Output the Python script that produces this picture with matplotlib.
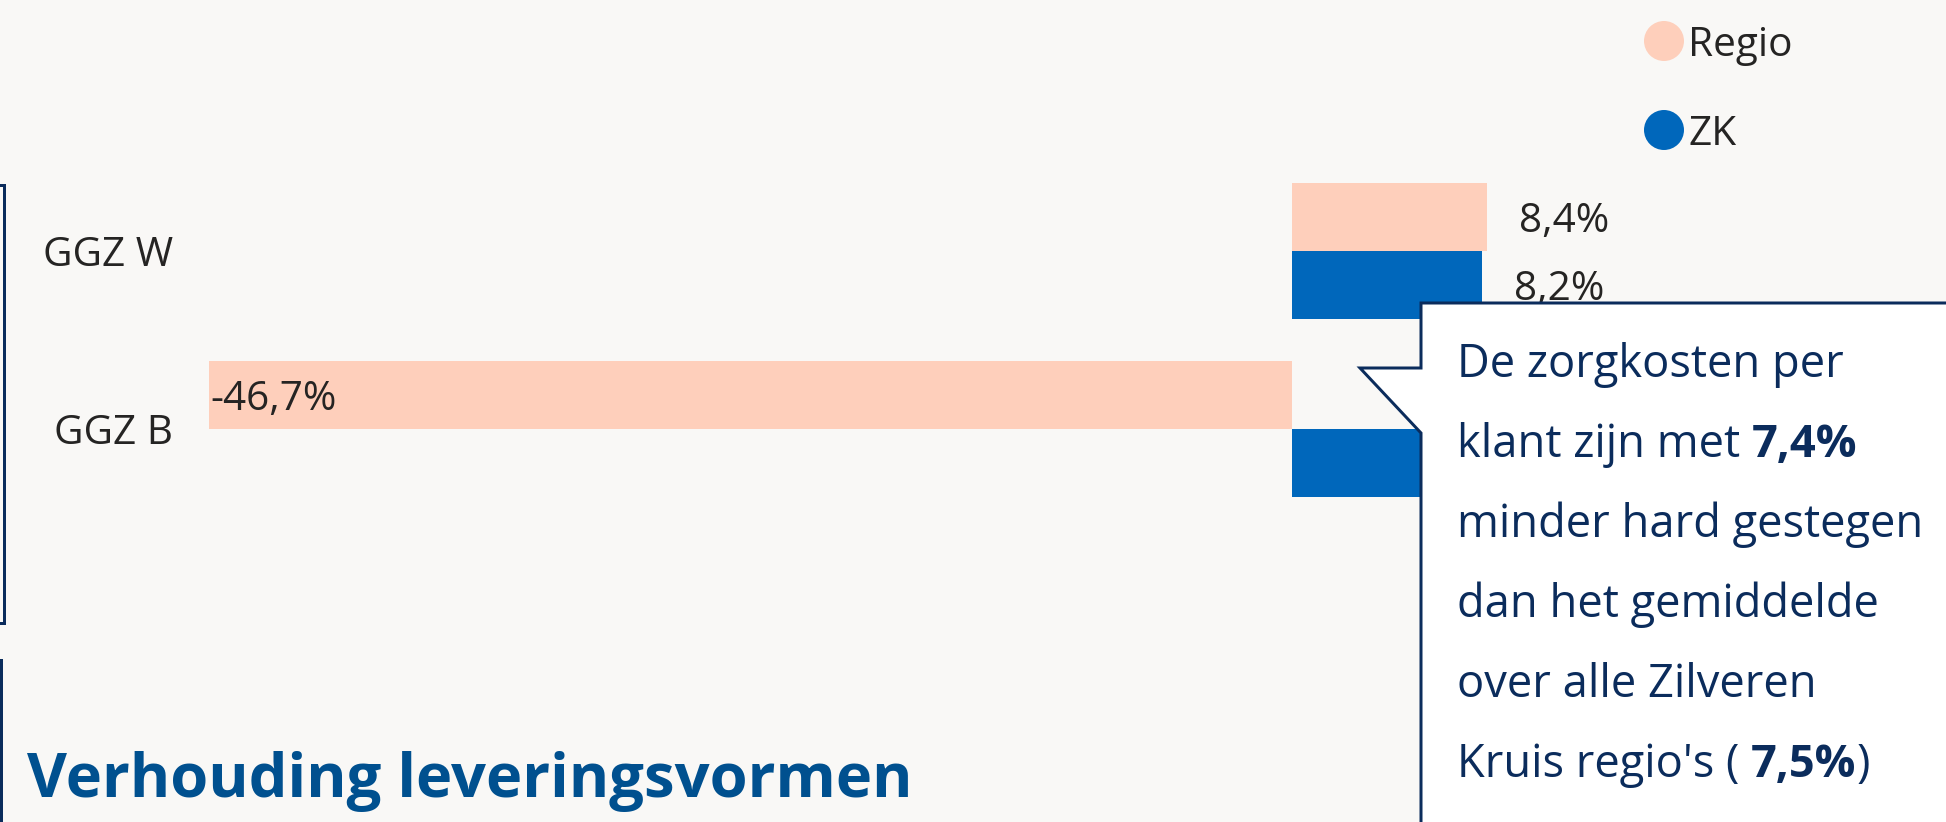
import matplotlib
matplotlib.use("Agg")
import matplotlib.pyplot as plt
from matplotlib.patches import Polygon, Ellipse
from matplotlib.lines import Line2D

# ---------------- data ----------------
categories = ["GGZ W", "GGZ B"]
series_names = ["Regio", "ZK"]
regio_values = [8.4, -46.7]
zk_values = [8.2, 8.0]          # GGZ B / ZK value is hidden behind the callout (estimated)
zk_label_visible = [True, False]  # the GGZ B / ZK label is covered by the callout in the reference

title_text = "Verhouding leveringsvormen"
callout_lines = [
    [("De zorgkosten per", "normal")],
    [("klant zijn met ", "normal"), ("7,4%", "bold")],
    [("minder hard gestegen", "normal")],
    [("dan het gemiddelde", "normal")],
    [("over alle Zilveren", "normal")],
    [("Kruis regio's ( ", "normal"), ("7,5%", "bold"), (")", "normal")],
]

# ---------------- style ----------------
W, H, DPI = 1946, 822, 100
BG = "#F9F8F6"
REGIO_C = "#FECFBB"
ZK_C = "#0067BB"
NAVY = "#0B2C5C"
TEXT_C = "#252423"
TITLE_C = "#00508F"
FONT = "Open Sans"

fig = plt.figure(figsize=(W / DPI, H / DPI), dpi=DPI, facecolor=BG)
renderer = fig.canvas.get_renderer()


def fx(x):
    return x / W


def fy(y):
    return 1 - y / H


def text_w(s, size, weight="normal"):
    t = fig.text(0, 0, s, fontsize=size, family=FONT, weight=weight)
    w = t.get_window_extent(renderer).width
    t.remove()
    return w


def adv(s, size, weight="normal"):
    return text_w("|" + s + "|", size, weight) - text_w("||", size, weight)


def fit(s, target, weight="normal"):
    return 30 * target / text_w(s, 30, weight)


small_size = (fit("-46,7%", 127) + fit("GGZ W", 133) + fit("8,4%", 88)) / 3

# ---------------- axes ----------------
ax_left_px = 200
scale = 23.19            # pixels per percent
zero_px = 1292
ax = fig.add_axes([fx(ax_left_px), 0, 1 - fx(ax_left_px), 1])
ax.set_facecolor("none")
ax.set_xlim((ax_left_px - zero_px) / scale, (W - zero_px) / scale)
cat_gap = 178
first_center = 251
ax.set_ylim((H - first_center) / cat_gap, -first_center / cat_gap)
for s in ax.spines.values():
    s.set_visible(False)
ax.xaxis.set_visible(False)

ypos = list(range(len(categories)))
h = 68 / cat_gap
y_regio = [y - h / 2 for y in ypos]
y_zk = [y + h / 2 for y in ypos]
ax.barh(y_regio, regio_values, height=h, color=REGIO_C, linewidth=0)
ax.barh(y_zk, zk_values, height=h, color=ZK_C, linewidth=0)

ax.set_yticks(ypos)
ax.set_yticklabels(categories)
ax.tick_params(axis="y", length=0, pad=27 * 72 / DPI, labelsize=small_size, labelcolor=TEXT_C)
for lbl in ax.get_yticklabels():
    lbl.set_fontfamily(FONT)
    lbl.set_verticalalignment("center_baseline")


def fmt(v):
    return f"{v:.1f}".replace(".", ",") + "%"


regio_label_visible = [True] * len(regio_values)
for yy, vals, vis in ((y_regio, regio_values, regio_label_visible),
                      (y_zk, zk_values, zk_label_visible)):
    for y, v, show in zip(yy, vals, vis):
        if not show:
            continue
        if v >= 0:
            ax.annotate(fmt(v), (v, y), xytext=(32 * 72 / DPI, 0), textcoords="offset points",
                        ha="left", va="center_baseline", fontsize=small_size,
                        family=FONT, color=TEXT_C)
        else:
            ax.annotate(fmt(v), (v, y), xytext=(1 * 72 / DPI, 0), textcoords="offset points",
                        ha="left", va="center_baseline", fontsize=small_size,
                        family=FONT, color=TEXT_C)

# ---------------- legend ----------------
leg_colors = [REGIO_C, ZK_C]
leg_y = [41, 130]
for name, c, ly in zip(series_names, leg_colors, leg_y):
    fig.add_artist(Ellipse((fx(1664), fy(ly)), 40 / W, 40 / H, transform=fig.transFigure,
                           facecolor=c, edgecolor="none"))
    fig.text(fx(1688), fy(ly), name, ha="left", va="center_baseline",
             fontsize=small_size, family=FONT, color=TEXT_C)

# ---------------- frame fragments ----------------
lw = 3 * 72 / DPI
fig.add_artist(Line2D([fx(-10), fx(4), fx(4), fx(-10)], [fy(185), fy(185), fy(623), fy(623)],
                      transform=fig.transFigure, color=NAVY, lw=lw, solid_joinstyle="miter"))
fig.add_artist(Line2D([fx(1), fx(1)], [fy(660), fy(830)], transform=fig.transFigure,
                      color=NAVY, lw=lw))

# ---------------- title ----------------
title_size = fit(title_text, 886, "bold")
fig.text(fx(27), fy(797), title_text, ha="left", va="baseline", fontsize=title_size,
         family=FONT, weight="bold", color=TITLE_C)

# ---------------- callout ----------------
pts_px = [(1421, 303), (1960, 303), (1960, 840), (1421, 840), (1421, 433), (1360, 368), (1421, 368)]
fig.add_artist(Polygon([(fx(x), fy(y)) for x, y in pts_px], closed=True, transform=fig.transFigure,
                       facecolor="white", edgecolor=NAVY, lw=lw, joinstyle="miter", zorder=5))

call_size = (fit("dan het gemiddelde", 428) + fit("De zorgkosten per", 381)) / 2
base0, line_gap, x0 = 377, 80, 1457
for i, parts in enumerate(callout_lines):
    x = x0
    for s, wgt in parts:
        fig.text(fx(x), fy(base0 + i * line_gap), s, ha="left", va="baseline",
                 fontsize=call_size, family=FONT, weight=wgt, color=NAVY, zorder=6)
        x += adv(s, call_size, wgt)

fig.savefig("out.png", dpi=DPI, facecolor=BG)
